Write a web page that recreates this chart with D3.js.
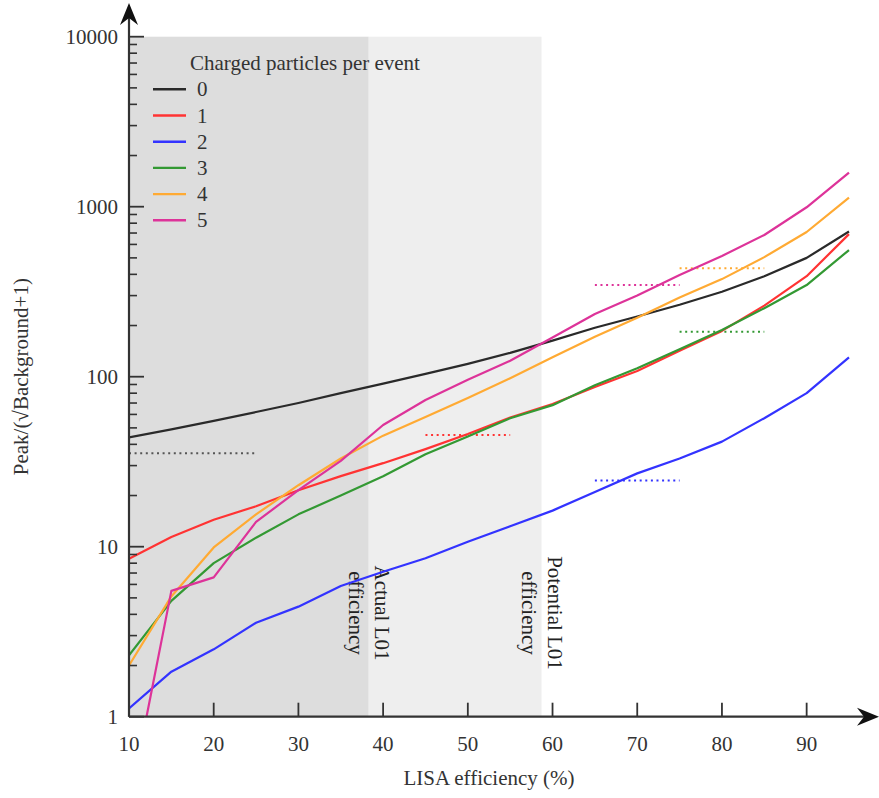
<!DOCTYPE html>
<html>
<head>
<meta charset="utf-8">
<script src="https://cdn.jsdelivr.net/npm/d3@7"></script>
<style>
  html, body { margin: 0; padding: 0; background: #fff; }
  svg { display: block; font-family: "Liberation Serif", "DejaVu Serif", serif; }
</style>
</head>
<body>
<svg id="chart" width="879" height="798"></svg>
<script>
// LISA efficiency (%) sample points
const efficiency = [10, 15, 20, 25, 30, 35, 40, 45, 50, 55, 60, 65, 70, 75, 80, 85, 90, 95];

// Peak/(sqrt(Background)+1) per number of charged particles per event
const particles0 = [44, 49, 55, 62, 70, 80, 91, 104, 119, 138, 163, 194, 226, 265, 316, 390, 500, 715];
const particles1 = [8.5, 11.4, 14.4, 17.3, 21.5, 26, 31, 37.5, 46, 57.5, 69, 87, 108, 142, 186, 262, 390, 690];
const particles2 = [1.12, 1.84, 2.49, 3.57, 4.44, 5.87, 7.13, 8.55, 10.7, 13.2, 16.3, 21, 27, 33, 41.5, 57, 80, 130];
const particles3 = [2.3, 4.8, 8, 11.3, 15.5, 20, 26, 35, 44.5, 57, 68, 89, 112, 145, 188, 253, 346, 556];
const particles4 = [2.0, 5.1, 9.9, 15.5, 23, 33, 45, 58, 75, 98, 130, 172, 222, 292, 375, 505, 710, 1130];
const particles5 = [0.3, 5.5, 6.6, 14, 21.5, 32, 52, 73, 96, 124, 170, 234, 300, 396, 513, 682, 992, 1585];

const seriesNames = ["0", "1", "2", "3", "4", "5"];
const seriesValues = [particles0, particles1, particles2, particles3, particles4, particles5];
const seriesColors = ["#2a2a2a", "#ff3333", "#3333ff", "#339933", "#ffaa33", "#dd3399"];

// Dotted reference levels: [from %, to %, value]
const refFrom = [10, 45, 65, 75, 75, 65];
const refTo = [25, 55, 75, 85, 85, 75];
const refLevel = [35.4, 45.4, 24.5, 184, 434, 346];

// Shaded efficiency bands
const actualL01 = 38.3;
const potentialL01 = 58.7;

const xTicks = [10, 20, 30, 40, 50, 60, 70, 80, 90];
const yTicks = [1, 10, 100, 1000, 10000];

const svg = d3.select("#chart");
const x = d3.scaleLinear().domain([10, 95]).range([129, 849]);
const y = d3.scaleLog().domain([1, 10000]).range([716.7, 36.7]);

const axisColor = "#333";
const textColor = "#333";

// background bands
svg.append("rect")
  .attr("x", x(10)).attr("y", y(10000))
  .attr("width", x(actualL01) - x(10)).attr("height", y(1) - y(10000))
  .attr("fill", "#dddddd");
svg.append("rect")
  .attr("x", x(actualL01)).attr("y", y(10000))
  .attr("width", x(potentialL01) - x(actualL01)).attr("height", y(1) - y(10000))
  .attr("fill", "#eeeeee");

// band labels
function bandLabel(xv, line1, line2) {
  const g = svg.append("g")
    .attr("transform", `translate(${x(xv) + 6},613) rotate(90)`);
  const t = g.append("text")
    .attr("text-anchor", "middle")
    .attr("font-size", 21)
    .attr("fill", "#222");
  t.append("tspan").attr("x", 0).attr("dy", 0).text(line1);
  t.append("tspan").attr("x", 0).attr("dy", 25.5).text(line2);
}
bandLabel(actualL01, "Actual L01", "efficiency");
bandLabel(potentialL01, "Potential L01", "efficiency");

// clip region for the curves
svg.append("clipPath").attr("id", "plotClip")
  .append("rect").attr("x", x(10)).attr("y", 0)
  .attr("width", 879 - x(10)).attr("height", y(1));

const plot = svg.append("g").attr("clip-path", "url(#plotClip)");

// dotted reference levels
seriesValues.forEach((_, i) => {
  plot.append("line")
    .attr("x1", x(refFrom[i])).attr("x2", x(refTo[i]))
    .attr("y1", y(refLevel[i])).attr("y2", y(refLevel[i]))
    .attr("stroke", i === 0 ? "#555" : seriesColors[i])
    .attr("stroke-width", 2)
    .attr("stroke-dasharray", "2,3.6");
});

// curves
const line = d3.line()
  .x((d, i) => x(efficiency[i]))
  .y(d => y(d));

seriesValues.forEach((vals, i) => {
  plot.append("path")
    .datum(vals)
    .attr("d", line)
    .attr("fill", "none")
    .attr("stroke", seriesColors[i])
    .attr("stroke-width", 2.2)
    .attr("stroke-linejoin", "round");
});

// y axis: major and minor ticks pointing inward
const yAxis = svg.append("g").attr("transform", `translate(${x(10)},0)`);
const minorTicks = [];
for (let d = 1; d < 10000; d *= 10) {
  for (let m = 2; m <= 9; m++) minorTicks.push(d * m);
}
yAxis.selectAll("line.minor").data(minorTicks).join("line")
  .attr("class", "minor")
  .attr("x1", 0).attr("x2", 8)
  .attr("y1", d => y(d)).attr("y2", d => y(d))
  .attr("stroke", axisColor).attr("stroke-width", 1.6);
yAxis.selectAll("line.major").data(yTicks).join("line")
  .attr("class", "major")
  .attr("x1", 0).attr("x2", 15)
  .attr("y1", d => y(d)).attr("y2", d => y(d))
  .attr("stroke", axisColor).attr("stroke-width", 1.8);
yAxis.selectAll("text").data(yTicks).join("text")
  .attr("x", -11)
  .attr("y", d => y(d))
  .attr("dy", "0.33em")
  .attr("text-anchor", "end")
  .attr("font-size", 21)
  .attr("fill", textColor)
  .text(d => d3.format("d")(d));

// x axis ticks pointing upward
const xAxis = svg.append("g").attr("transform", `translate(0,${y(1)})`);
xAxis.selectAll("line").data(xTicks).join("line")
  .attr("x1", d => x(d)).attr("x2", d => x(d))
  .attr("y1", 0).attr("y2", -14)
  .attr("stroke", axisColor).attr("stroke-width", 1.8);
xAxis.selectAll("text").data(xTicks).join("text")
  .attr("x", d => x(d))
  .attr("y", 34)
  .attr("text-anchor", "middle")
  .attr("font-size", 21)
  .attr("fill", textColor)
  .text(d => d);

// axis lines with arrowheads
svg.append("line")
  .attr("x1", x(10)).attr("x2", 866)
  .attr("y1", y(1)).attr("y2", y(1))
  .attr("stroke", axisColor).attr("stroke-width", 2.2);
svg.append("line")
  .attr("x1", x(10)).attr("x2", x(10))
  .attr("y1", y(1)).attr("y2", 16)
  .attr("stroke", axisColor).attr("stroke-width", 2.2);
const ax = x(10), ay = y(1);
svg.append("path")
  .attr("d", `M${ax},3 L${ax + 9},25 L${ax},18 L${ax - 9},25 Z`)
  .attr("fill", "#111");
svg.append("path")
  .attr("d", `M879,${ay} L857,${ay - 9} L864,${ay} L857,${ay + 9} Z`)
  .attr("fill", "#111");

// axis titles
svg.append("text")
  .attr("x", (x(10) + x(95)) / 2)
  .attr("y", 785)
  .attr("text-anchor", "middle")
  .attr("font-size", 21)
  .attr("fill", textColor)
  .text("LISA efficiency (%)");
svg.append("text")
  .attr("transform", `translate(28,${(y(1) + y(10000)) / 2}) rotate(-90)`)
  .attr("text-anchor", "middle")
  .attr("font-size", 21)
  .attr("fill", textColor)
  .text("Peak/(\u221ABackground+1)");

// legend
const legend = svg.append("g");
legend.append("text")
  .attr("x", 190).attr("y", 70)
  .attr("font-size", 21)
  .attr("fill", textColor)
  .text("Charged particles per event");
seriesNames.forEach((name, i) => {
  const ly = 89.3 + i * 26.2;
  legend.append("line")
    .attr("x1", 153).attr("x2", 186)
    .attr("y1", ly).attr("y2", ly)
    .attr("stroke", seriesColors[i]).attr("stroke-width", 2.4);
  legend.append("text")
    .attr("x", 197).attr("y", ly).attr("dy", "0.34em")
    .attr("font-size", 21)
    .attr("fill", textColor)
    .text(name);
});
</script>
</body>
</html>
